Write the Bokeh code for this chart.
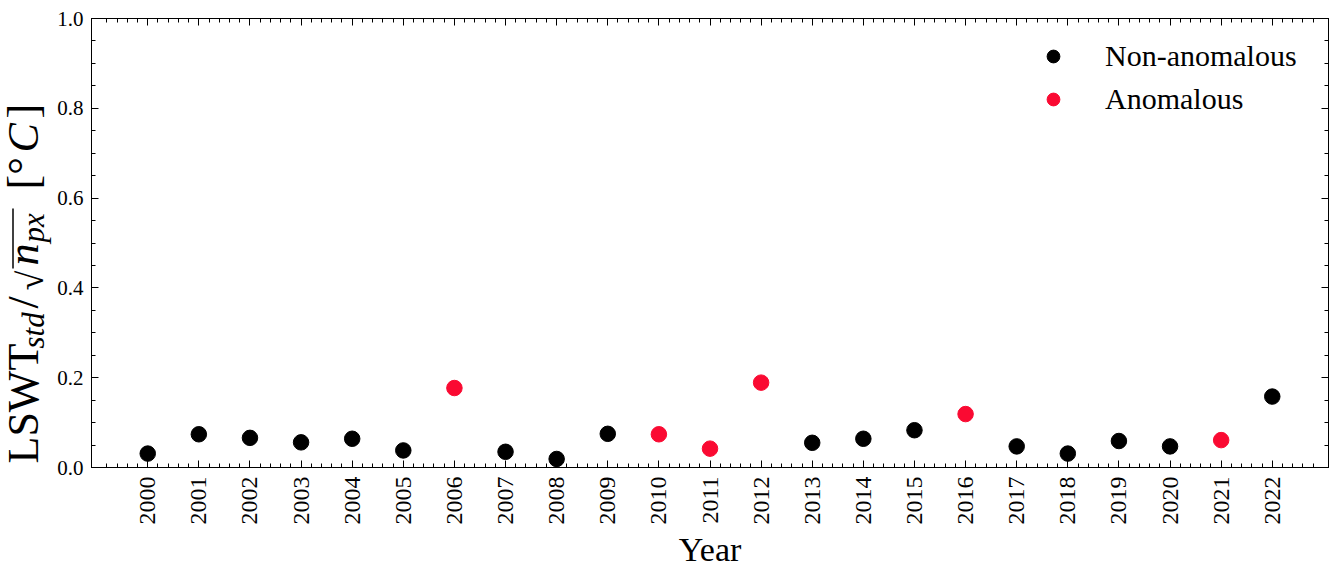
from math import pi
from bokeh.plotting import figure
from bokeh.layouts import row
from bokeh.models import (Range1d, FixedTicker, SingleIntervalTicker, LinearAxis,
                          NumeralTickFormatter, CustomJSTickFormatter, Legend, LegendItem,
                          Label, Arrow, ColumnDataSource)
from bokeh.embed import file_html
from bokeh.resources import INLINE

# ---------------- data ----------------
years = list(range(2000, 2023))
values = [0.031, 0.074, 0.066, 0.056, 0.064, 0.038, 0.177, 0.035, 0.019, 0.075,
          0.074, 0.042, 0.189, 0.055, 0.064, 0.083, 0.119, 0.047, 0.031, 0.059,
          0.047, 0.061, 0.158]
anomalous_years = [2006, 2010, 2011, 2012, 2016, 2021]
legend_labels = ["Non-anomalous", "Anomalous"]
x_label = "Year"

FONT = "Liberation Serif"
RED = "#fa0a32"
H = 570
LW = 54            # width of the y-title strip
W = 1330 - LW      # width of main figure
FRAME_BOTTOM = 468  # page y of the (aligned) frame bottom

normal = dict(x=[y for y in years if y not in anomalous_years],
              y=[v for y, v in zip(years, values) if y not in anomalous_years])
anom = dict(x=[y for y in years if y in anomalous_years],
            y=[v for y, v in zip(years, values) if y in anomalous_years])

p = figure(width=W, height=H, output_backend="svg", toolbar_location=None,
           x_range=Range1d(years[0] - 1.1, years[-1] + 1.1), y_range=Range1d(0, 1),
           min_border_left=91 - LW, min_border_right=2, min_border_top=18, min_border_bottom=102,
           background_fill_color="white", border_fill_color="white")
p.grid.visible = False
p.outline_line_color = "black"
p.outline_line_width = 1

x_minor = [y + k * 0.2 for y in range(years[0] - 2, years[-1] + 2) for k in range(1, 5)]
x_ticker = FixedTicker(ticks=years, minor_ticks=x_minor)
y_ticker = SingleIntervalTicker(interval=0.2, num_minor_ticks=4)


def style_axis(ax, labels=True):
    ax.axis_line_color = "black"
    ax.major_tick_in = 7
    ax.major_tick_out = 0
    ax.minor_tick_in = 4
    ax.minor_tick_out = 0
    ax.major_tick_line_color = "black"
    ax.minor_tick_line_color = "black"
    ax.major_label_text_font = FONT
    ax.major_label_text_color = "black"
    if not labels:
        ax.major_label_text_font_size = "0px"
        ax.major_label_standoff = 0
        ax.formatter = CustomJSTickFormatter(code="return ''")


xa = p.xaxis[0]
xa.ticker = x_ticker
style_axis(xa)
xa.major_label_orientation = pi / 2
xa.major_label_text_font_size = "24px"
xa.major_label_standoff = 9
xa.axis_label = x_label
xa.axis_label_text_font = FONT
xa.axis_label_text_font_size = "34px"
xa.axis_label_text_font_style = "normal"
xa.axis_label_text_color = "black"
xa.axis_label_standoff = 3

ya = p.yaxis[0]
ya.ticker = y_ticker
style_axis(ya)
ya.formatter = NumeralTickFormatter(format="0.0")
ya.major_label_text_font_size = "21px"
ya.major_label_standoff = 8

top = LinearAxis(ticker=x_ticker)
style_axis(top, labels=False)
p.add_layout(top, "above")
right = LinearAxis(ticker=y_ticker)
style_axis(right, labels=False)
p.add_layout(right, "right")

r_norm = p.scatter("x", "y", source=ColumnDataSource(normal), size=15.5,
                   fill_color="black", line_color="black")
r_anom = p.scatter("x", "y", source=ColumnDataSource(anom), size=15.5,
                   fill_color=RED, line_color=RED)

legend = Legend(items=[LegendItem(label=legend_labels[0], renderers=[r_norm]),
                       LegendItem(label=legend_labels[1], renderers=[r_anom])],
                location=(946, 351), padding=0, margin=0, spacing=9,
                glyph_width=32, glyph_height=32, label_height=32, label_standoff=36,
                label_text_font=FONT, label_text_font_size="30px",
                label_text_color="black",
                border_line_color=None, background_fill_alpha=0)
p.add_layout(legend)

# ---- y-axis title: a narrow strip figure holding the rotated pieces ----
t = figure(width=LW, height=H, output_backend="svg", toolbar_location=None,
           x_axis_location=None, y_axis_location=None, min_border=0,
           x_range=Range1d(0, 1), y_range=Range1d(0, 1),
           outline_line_color=None, background_fill_color="white",
           border_fill_color="white")
t.grid.visible = False

# (text, font px, style, start y on page, baseline x on page)
pieces = [
    ("LSWT", 44, "normal", 464, 41),
    ("std", 31, "italic", 349, 46),
    ("/", 44, "normal", 309, 41),
    ("\u221a", 36, "normal", 291, 46),
    ("n", 44, "italic", 266, 41),
    ("px", 31, "italic", 243, 46),
    ("[\u00b0", 44, "normal", 190, 41),
    ("C", 44, "italic", 153, 41),
    ("]", 44, "normal", 119, 41),
]
for txt, fs, style, y0, bx in pieces:
    t.add_layout(Label(x=bx - 0.42 * fs, y=FRAME_BOTTOM - y0, x_units="screen", y_units="screen",
                       text=txt, angle=pi / 2, text_align="left", text_baseline="alphabetic",
                       text_font=FONT, text_font_size=f"{fs}px", text_font_style=style,
                       text_color="black"))
t.add_layout(Arrow(end=None, start=None, x_start=12.5, y_start=FRAME_BOTTOM - 269,
                   x_end=12.5, y_end=FRAME_BOTTOM - 209, start_units="screen", end_units="screen",
                   line_color="black", line_width=1.5))

layout = row(t, p)
open("out.html", "w").write(file_html(layout, INLINE))
